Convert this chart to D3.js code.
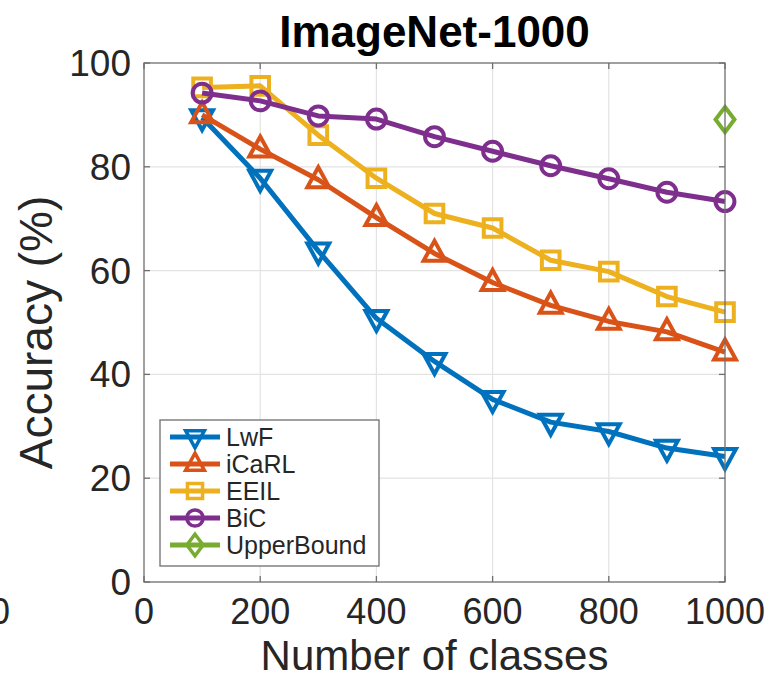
<!DOCTYPE html>
<html>
<head>
<meta charset="utf-8">
<script src="https://cdn.jsdelivr.net/npm/d3@7"></script>
<style>
  body { margin: 0; background: #fff; }
  text { font-family: "Liberation Sans", Arial, Helvetica, sans-serif; fill: #262626; }
</style>
</head>
<body>
<div id="chart"></div>
<script>
// data
const classes = [100, 200, 300, 400, 500, 600, 700, 800, 900, 1000];
const lwf   = [89.5, 77.8, 63.8, 50.8, 42.5, 35.2, 30.8, 29.0, 25.8, 24.2];
const icarl = [90.0, 83.4, 77.5, 70.2, 63.3, 57.7, 53.3, 50.2, 48.2, 44.3];
const eeil  = [95.3, 95.6, 86.1, 77.8, 71.0, 68.2, 62.0, 59.8, 55.0, 52.0];
const bic   = [94.2, 92.7, 89.8, 89.2, 85.8, 83.0, 80.2, 77.7, 75.1, 73.3];
const upperX = [1000];
const upper  = [89.1];
const xTicks = [0, 200, 400, 600, 800, 1000];
const yTicks = [0, 20, 40, 60, 80, 100];
const seriesNames = ["LwF", "iCaRL", "EEIL", "BiC", "UpperBound"];

const colors = ["#0072BD", "#D95319", "#EDB120", "#7E2F8E", "#77AC30"];
const shapes = ["tridown", "triup", "square", "circle", "diamond"];

const series = [
  { name: seriesNames[0], xs: classes, ys: lwf },
  { name: seriesNames[1], xs: classes, ys: icarl },
  { name: seriesNames[2], xs: classes, ys: eeil },
  { name: seriesNames[3], xs: classes, ys: bic },
  { name: seriesNames[4], xs: upperX, ys: upper }
];

const W = 775, H = 679;
const margin = { top: 63, right: 50, bottom: 97, left: 144 };
const width = W - margin.left - margin.right;
const height = H - margin.top - margin.bottom;

const x = d3.scaleLinear().domain([0, 1000]).range([0, width]);
const y = d3.scaleLinear().domain([0, 100]).range([height, 0]);

const root = d3.select("#chart").append("svg")
  .attr("width", W).attr("height", H);
const svg = root.append("g")
  .attr("transform", "translate(" + margin.left + "," + margin.top + ")");

// grid
svg.append("g").selectAll("line").data(xTicks.slice(1, -1)).join("line")
  .attr("x1", d => x(d)).attr("x2", d => x(d))
  .attr("y1", 0).attr("y2", height)
  .attr("stroke", "#e3e3e3").attr("stroke-width", 1.2);
svg.append("g").selectAll("line").data(yTicks.slice(1, -1)).join("line")
  .attr("y1", d => y(d)).attr("y2", d => y(d))
  .attr("x1", 0).attr("x2", width)
  .attr("stroke", "#e3e3e3").attr("stroke-width", 1.2);

// marker path builder
function marker(shape, s) {
  const p = d3.path();
  if (shape === "circle") {
    p.arc(0, 0, s * 0.45, 0, 2 * Math.PI);
  } else if (shape === "square") {
    const h = s * 0.42;
    p.rect(-h, -h, 2 * h, 2 * h);
  } else if (shape === "diamond") {
    p.moveTo(0, -s * 0.6); p.lineTo(s * 0.45, 0); p.lineTo(0, s * 0.6); p.lineTo(-s * 0.45, 0); p.closePath();
  } else if (shape === "triup") {
    p.moveTo(0, -s * 0.6); p.lineTo(s * 0.52, s * 0.35); p.lineTo(-s * 0.52, s * 0.35); p.closePath();
  } else {
    p.moveTo(0, s * 0.6); p.lineTo(s * 0.52, -s * 0.35); p.lineTo(-s * 0.52, -s * 0.35); p.closePath();
  }
  return p.toString();
}

const line = d3.line().x(d => x(d[0])).y(d => y(d[1]));

series.forEach((s, i) => {
  const pts = s.xs.map((v, j) => [v, s.ys[j]]);
  if (pts.length > 1) {
    svg.append("path").datum(pts)
      .attr("d", line)
      .attr("fill", "none")
      .attr("stroke", colors[i])
      .attr("stroke-width", 5)
      .attr("stroke-linejoin", "round");
  }
  svg.append("g").selectAll("path").data(pts).join("path")
    .attr("transform", d => "translate(" + x(d[0]) + "," + y(d[1]) + ")")
    .attr("d", marker(shapes[i], 21))
    .attr("fill", "none")
    .attr("stroke", colors[i])
    .attr("stroke-width", 4);
});

// axes box + inward ticks
const axisColor = "#6e6e6e";
svg.append("rect").attr("width", width).attr("height", height)
  .attr("fill", "none").attr("stroke", axisColor).attr("stroke-width", 1.3);
const tl = 6;
xTicks.forEach(t => {
  svg.append("line").attr("x1", x(t)).attr("x2", x(t)).attr("y1", height).attr("y2", height - tl)
    .attr("stroke", axisColor).attr("stroke-width", 1.3);
  svg.append("line").attr("x1", x(t)).attr("x2", x(t)).attr("y1", 0).attr("y2", tl)
    .attr("stroke", axisColor).attr("stroke-width", 1.3);
});
yTicks.forEach(t => {
  svg.append("line").attr("y1", y(t)).attr("y2", y(t)).attr("x1", 0).attr("x2", tl)
    .attr("stroke", axisColor).attr("stroke-width", 1.3);
  svg.append("line").attr("y1", y(t)).attr("y2", y(t)).attr("x1", width).attr("x2", width - tl)
    .attr("stroke", axisColor).attr("stroke-width", 1.3);
});

// tick labels
svg.append("g").selectAll("text").data(xTicks).join("text")
  .attr("x", d => x(d)).attr("y", height + 42)
  .attr("text-anchor", "middle").style("font-size", "36px")
  .text(d => d);
svg.append("g").selectAll("text").data(yTicks).join("text")
  .attr("x", -13).attr("y", d => y(d) + 13)
  .attr("text-anchor", "end").style("font-size", "37px")
  .text(d => d);

// stray label from the neighbouring panel, clipped at the left edge
root.append("text").attr("x", 10).attr("y", margin.top + height + 42)
  .attr("text-anchor", "end").style("font-size", "36px").text("0");

// axis labels
svg.append("text")
  .attr("x", width / 2).attr("y", height + 88)
  .attr("text-anchor", "middle").style("font-size", "42px")
  .text("Number of classes");
svg.append("text")
  .attr("transform", "rotate(-90)")
  .attr("x", -(height / 2) - 10).attr("y", -92)
  .attr("text-anchor", "middle").style("font-size", "46px")
  .text("Accuracy (%)");

// title
svg.append("text")
  .attr("x", width / 2).attr("y", -16)
  .attr("text-anchor", "middle").style("font-size", "44px").style("font-weight", "bold")
  .style("fill", "#000")
  .text("ImageNet-1000");

// legend
const lg = root.append("g").attr("transform", "translate(160,420)");
lg.append("rect").attr("width", 219).attr("height", 146)
  .attr("fill", "#fff").attr("stroke", "#6e6e6e").attr("stroke-width", 1.3);
series.forEach((s, i) => {
  const cy = 17 + i * 27;
  lg.append("line").attr("x1", 10).attr("x2", 60).attr("y1", cy).attr("y2", cy)
    .attr("stroke", colors[i]).attr("stroke-width", 5);
  lg.append("path").attr("transform", "translate(35," + cy + ")")
    .attr("d", marker(shapes[i], 18))
    .attr("fill", "none").attr("stroke", colors[i]).attr("stroke-width", 3.5);
  lg.append("text").attr("x", 66).attr("y", cy + 9)
    .style("font-size", "25px").text(s.name);
});
</script>
</body>
</html>
